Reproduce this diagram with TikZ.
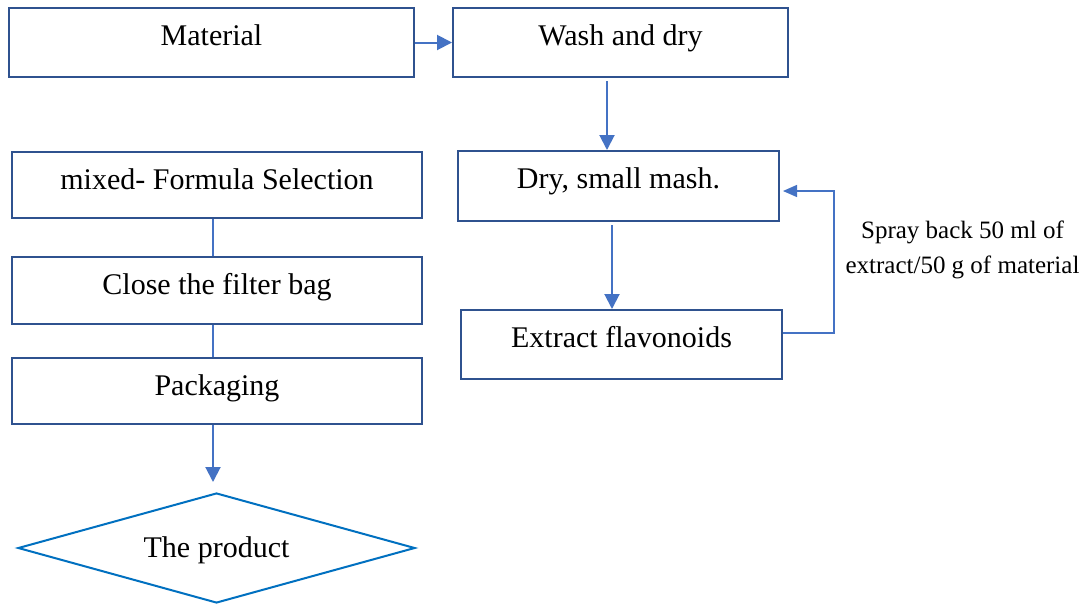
\documentclass[tikz,border=0pt]{standalone}
\usepackage{fontspec}
\setmainfont{Liberation Serif}
\usetikzlibrary{shapes.geometric,arrows.meta,calc}
\definecolor{boxline}{HTML}{2F528F}
\definecolor{arrowc}{HTML}{4472C4}
\definecolor{diamc}{HTML}{0070C0}
\begin{document}
\begin{tikzpicture}[x=1pt,y=-1pt,
  boxnode/.style={draw=boxline, line width=2pt, inner sep=0pt, fill=white,
    font=\fontsize{30}{36}\selectfont, text height=37pt},
  arr/.style={draw=arrowc, line width=2pt, -{Triangle[length=15pt,width=15pt]}},
  fbarr/.style={draw=arrowc, line width=1.3pt, -{Triangle[length=14pt,width=12pt]}},
  conn/.style={draw=arrowc, line width=1.6pt},
  notetext/.style={font=\fontsize{25}{35}\selectfont, align=center, inner sep=0pt}]
\useasboundingbox (0,0) rectangle (1088,606);
\fill[white] (0,0) rectangle (1088,606);
% boxes
\node[boxnode, minimum width=405pt, text depth=32pt] (mat) at (211.5,42.5) {Material};
\node[boxnode, minimum width=335pt, text depth=32pt] (wash) at (620.5,42.5) {Wash and dry};
\node[boxnode, minimum width=321pt, text depth=33pt] (dry) at (618.5,186) {Dry, small mash.};
\node[boxnode, minimum width=321pt, text depth=32pt] (ext) at (621.5,344.5) {Extract flavonoids};
\node[boxnode, minimum width=410pt, text depth=29pt] (mix) at (217,185) {mixed- Formula Selection};
\node[boxnode, minimum width=410pt, text depth=30pt] (close) at (217,290.5) {Close the filter bag};
\node[boxnode, minimum width=410pt, text depth=29pt] (pack) at (217,391) {Packaging};
\node[diamond, draw=diamc, line width=2pt, fill=white, shape aspect=3.6,
  minimum width=397pt, minimum height=110pt, inner sep=0pt,
  font=\fontsize{30}{36}\selectfont, text height=24pt, text depth=6pt] (prod) at (216.5,548) {The product};
\node[notetext] (note) at (962.5,249.7) {Spray back 50 ml of\\extract/50 g of material};
% connectors
\draw[arr] (mat.east) -- (wash.west);
\draw[arr] ([xshift=-13.5pt,yshift=-3pt]wash.south) -- ([xshift=-13.5pt]wash.south |- dry.north);
\draw[arr] ([xshift=-6.5pt,yshift=-3pt]dry.south) -- ([xshift=-6.5pt]dry.south |- ext.north);
\coordinate (fbB) at (834,333);
\coordinate (fbT) at (834,191);
\draw[fbarr] (ext.east |- fbB) -- (fbB) -- (fbT) -- ([xshift=3pt]dry.east |- fbT);
\draw[conn] ([xshift=-4pt]mix.south) -- ([xshift=-4pt]close.north);
\draw[conn] ([xshift=-4pt]close.south) -- ([xshift=-4pt]pack.north);
\draw[arr] ([xshift=-4pt]pack.south) -- ([xshift=-4pt,yshift=10pt]pack.south |- prod.north);
\end{tikzpicture}
\end{document}
